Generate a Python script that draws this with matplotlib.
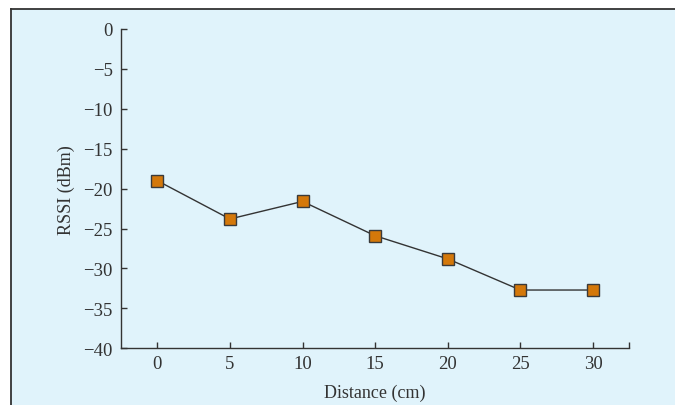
import matplotlib
matplotlib.use("Agg")
import matplotlib.pyplot as plt
from matplotlib.patches import Rectangle

distance = [0, 5, 10, 15, 20, 25, 30]
rssi = [-19.0, -23.8, -21.6, -25.9, -28.8, -32.7, -32.7]
xticks = [0, 5, 10, 15, 20, 25, 30]
yticks = [0, -5, -10, -15, -20, -25, -30, -35, -40]

plt.rcParams['font.family'] = ['Liberation Serif', 'DejaVu Serif']
plt.rcParams['axes.unicode_minus'] = True

fig = plt.figure(figsize=(6.75, 4.06), dpi=100)
fig.patch.set_facecolor('white')
# background panel with dark top/left border
panel = Rectangle((11/675, 0), 1 - 11/675 + 0.01, 1 - 10/406,
                  transform=fig.transFigure, facecolor='#E0F3FB',
                  edgecolor='none', zorder=-2)
fig.add_artist(panel)
fig.add_artist(plt.Line2D([11/675, 11/675], [0, 1 - 10/406], transform=fig.transFigure,
                          color='#333333', lw=1.3, zorder=-1))
fig.add_artist(plt.Line2D([11/675, 1], [1 - 10/406, 1 - 10/406], transform=fig.transFigure,
                          color='#333333', lw=1.3, zorder=-1))

ax = fig.add_axes([121/675, 1 - 349.3/406, (629.3 - 121)/675, (349.3 - 30)/406])
ax.set_zorder(2)
ax.set_facecolor('none')
ax.plot(distance, rssi, color='#333333', lw=1.0, marker='s', markersize=8.5,
        markerfacecolor='#D4780A', markeredgecolor='#3a3a3a', markeredgewidth=1.0,
        clip_on=False)
ax.set_xlim(-2.5, 32.5)
ax.set_ylim(-40, 0)
ax.set_xticks(xticks)
ax.set_yticks(yticks)
ax.set_xticks([32.5], minor=True)
ax.tick_params(axis='x', which='minor', direction='in', length=4, width=1.0, color='#333333')
for s in ['top', 'right']:
    ax.spines[s].set_visible(False)
for s in ['left', 'bottom']:
    ax.spines[s].set_color('#333333')
    ax.spines[s].set_linewidth(1.0)
ax.tick_params(axis='both', which='major', direction='in', length=4, width=1.0,
               color='#333333', labelcolor='#333333', labelsize=13.5)
ax.tick_params(axis='y', pad=6)
ax.tick_params(axis='x', pad=5)
ax.set_xlabel('Distance (cm)', fontsize=13, color='#333333', labelpad=8)
ax.set_ylabel('RSSI (dBm)', fontsize=13, color='#333333', labelpad=6)

fig.savefig('out.png', dpi=100, facecolor=fig.get_facecolor())
